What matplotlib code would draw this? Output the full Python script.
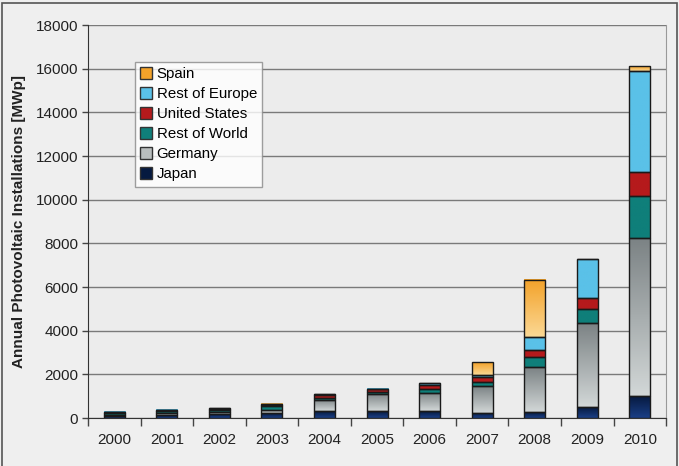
import numpy as np
import matplotlib.pyplot as plt
from matplotlib.colors import LinearSegmentedColormap
from matplotlib.patches import Rectangle, Patch

plt.rcParams['font.family'] = ['Liberation Sans', 'DejaVu Sans']

years = ['2000', '2001', '2002', '2003', '2004', '2005', '2006', '2007', '2008', '2009', '2010']
japan = [110, 135, 185, 225, 305, 305, 305, 230, 260, 504, 990]
germany = [45, 80, 80, 150, 534, 794, 840, 1220, 2060, 3848, 7238]
rest_world = [90, 100, 120, 160, 100, 80, 183, 183, 458, 656, 1924]
united_states = [25, 35, 45, 70, 130, 130, 200, 245, 351, 504, 1099]
rest_europe = [10, 12, 13, 20, 16, 21, 75, 107, 580, 1771, 4657]
spain = [0, 0, 0, 2, 0, 0, 0, 565, 2626, 0, 229]

series = [
    ('Japan', japan, ('#1b3f86', '#061a40')),
    ('Germany', germany, ('#d2d7d7', '#7c8385')),
    ('Rest of World', rest_world, ('#0f7f7a', '#0f7f7a')),
    ('United States', united_states, ('#b51a1c', '#b51a1c')),
    ('Rest of Europe', rest_europe, ('#5ac1e8', '#5ac1e8')),
    ('Spain', spain, ('#fbd894', '#f3a22a')),
]

fig = plt.figure(figsize=(6.79, 4.66), dpi=100)
fig.patch.set_facecolor('#efefef')
fig.patches.append(Rectangle((0.003, -0.01), 0.994, 1.003, transform=fig.transFigure,
                             fill=False, edgecolor='#555555', linewidth=1.2))
ax = fig.add_axes([0.1296, 0.103, 0.8514, 0.843])
ax.set_facecolor('#ececec')

x = np.arange(len(years))
width = 0.4
bottom = np.zeros(len(years))
handles = []
for name, vals, (c_low, c_high) in series:
    vals = np.array(vals, dtype=float)
    bars = ax.bar(x, vals, width, bottom=bottom, facecolor='none',
                  edgecolor='#1a1a1a', linewidth=1.0, zorder=4)
    cmap = LinearSegmentedColormap.from_list(name, [c_low, c_high])
    for b in bars:
        if b.get_height() <= 0:
            continue
        x0, y0 = b.get_x(), b.get_y()
        grad = np.linspace(0, 1, 64).reshape(-1, 1)
        ax.imshow(grad, cmap=cmap, origin='lower', aspect='auto', zorder=3,
                  extent=(x0, x0 + b.get_width(), y0, y0 + b.get_height()))
    bottom += vals
    handles.append(Patch(facecolor=c_high if name != 'Germany' else '#b9bebe',
                         edgecolor='#333333', label=name))

ax.set_xlim(-0.5, 10.5)
ax.set_ylim(0, 18000)
ax.set_yticks(np.arange(0, 18001, 2000))
ax.yaxis.grid(True, color='#7a7a7a', linewidth=1.0, zorder=0)
ax.set_axisbelow(True)

ax.set_xticks(x)
ax.set_xticklabels(years, fontsize=11, color='#222222')
ax.set_xticks(np.arange(-0.5, 11, 1), minor=True)
ax.tick_params(axis='x', which='major', length=0, pad=11)
ax.tick_params(axis='x', which='minor', length=6, width=1, color='#444444', direction='out')
ax.tick_params(axis='y', length=4, width=1, color='#444444', labelsize=11, pad=3,
               labelcolor='#222222')

ax.spines['top'].set_visible(False)
ax.spines['right'].set_color('#999999')
ax.spines['left'].set_color('#333333')
ax.spines['bottom'].set_color('#333333')

ax.set_ylabel('Annual Photovoltaic Installations [MWp]', fontsize=11, fontweight='bold',
              labelpad=7, color='#222222')

leg = ax.legend(handles=handles[::-1], loc='upper left', bbox_to_anchor=(0.081, 0.906),
                prop={'size': 10.8}, frameon=True, fancybox=False, handlelength=0.8,
                handleheight=0.8, handletextpad=0.3, borderpad=0.35, labelspacing=0.4,
                borderaxespad=0)
leg.get_frame().set_edgecolor('#888888')
leg.get_frame().set_linewidth(1.0)
leg.set_zorder(6)

fig.savefig('out.png', dpi=100, facecolor=fig.get_facecolor())
